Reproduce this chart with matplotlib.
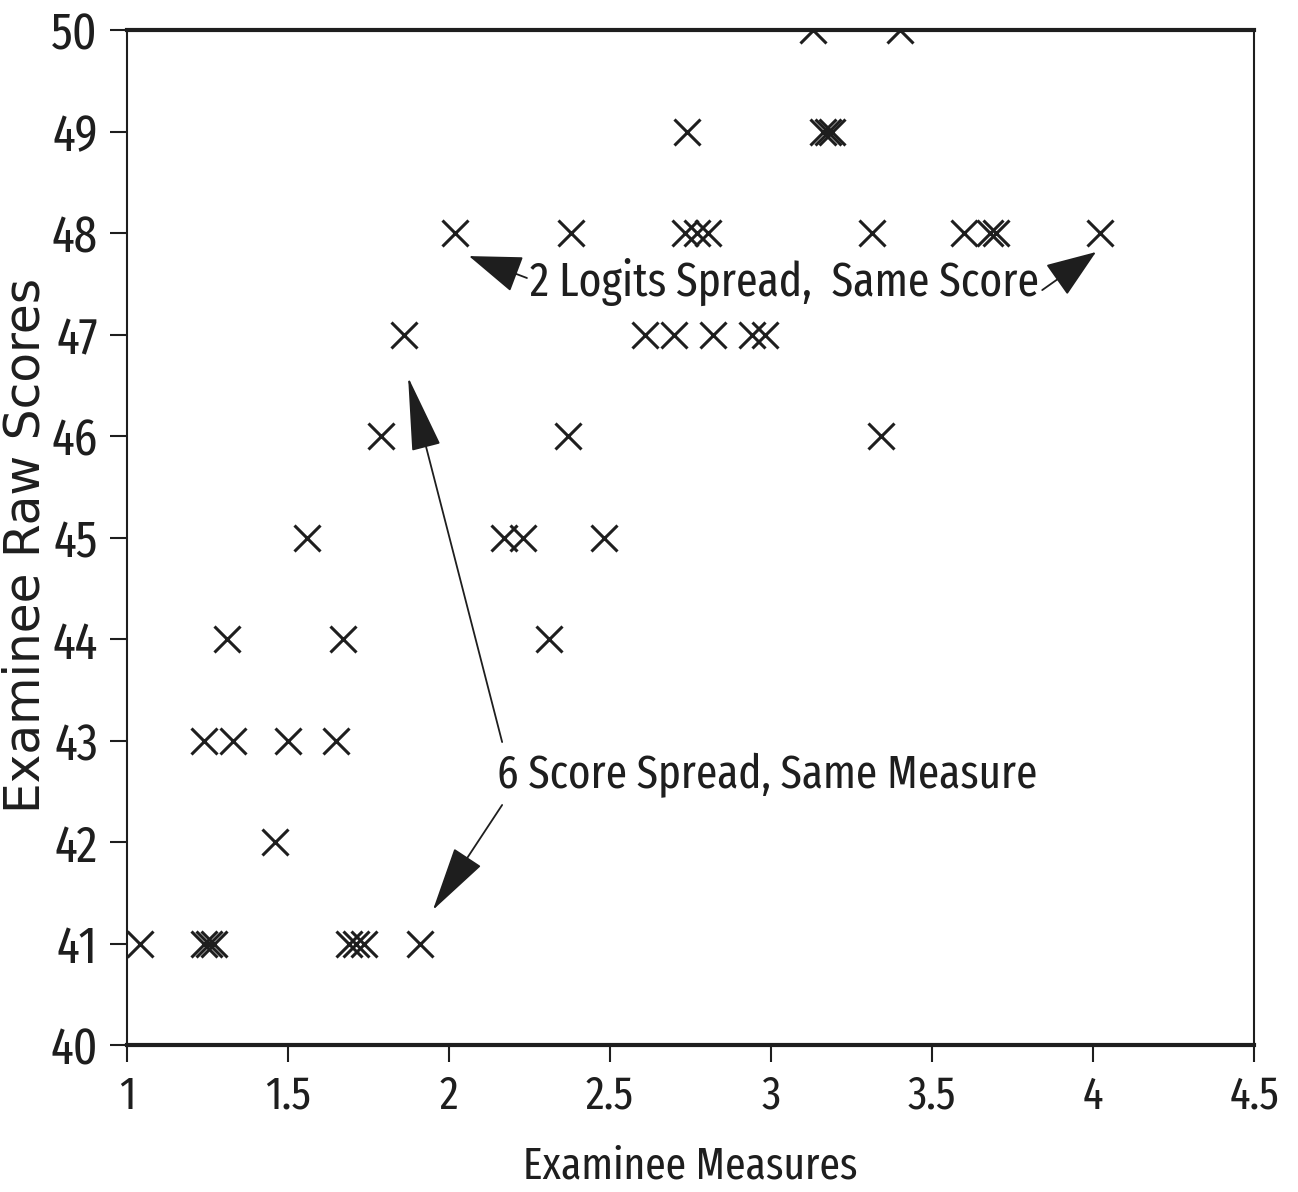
import os
import matplotlib
matplotlib.use("Agg")
import matplotlib.pyplot as plt
from matplotlib import font_manager as fm
from matplotlib.font_manager import FontProperties
from matplotlib.patches import FancyArrowPatch, ArrowStyle

# Examinee measures (logits) and raw scores
measures = [
    3.13, 3.40,
    2.74, 3.16, 3.177, 3.19,
    2.02, 2.38, 2.733, 2.77, 2.804, 3.314, 3.60, 3.68, 3.70, 4.02,
    1.86, 2.61, 2.70, 2.82, 2.94, 2.98,
    1.79, 2.37, 3.34,
    1.56, 2.17, 2.23, 2.48,
    1.31, 1.67, 2.31,
    1.24, 1.33, 1.50, 1.65,
    1.46,
    1.04, 1.24, 1.255, 1.27, 1.69, 1.71, 1.735, 1.91,
]
raw_scores = [
    50, 50,
    49, 49, 49, 49,
    48, 48, 48, 48, 48, 48, 48, 48, 48, 48,
    47, 47, 47, 47, 47, 47,
    46, 46, 46,
    45, 45, 45, 45,
    44, 44, 44,
    43, 43, 43, 43,
    42,
    41, 41, 41, 41, 41, 41, 41, 41,
]

x_ticks = [1, 1.5, 2, 2.5, 3, 3.5, 4, 4.5]
x_tick_labels = ["1", "1.5", "2", "2.5", "3", "3.5", "4", "4.5"]
y_ticks = list(range(40, 51))
y_tick_labels = [str(v) for v in y_ticks]


def pick_narrow_font():
    """Return the path of a regular-weight condensed/narrow face, if any."""
    bad = ("bold", "italic", "light", "thin", "black", "medium",
           "semibold", "oblique", "heavy", "[")
    entries = fm.fontManager.ttflist
    for key in ("extracondensed", "narrow", "condensed"):
        for f in entries:
            base = os.path.basename(f.fname).lower()
            if key in base:
                rest = base.replace(key, "")
                if not any(b in rest for b in bad):
                    return f.fname
    return None


narrow_path = pick_narrow_font()
if narrow_path:
    narrow_fp = FontProperties(fname=narrow_path)
else:
    narrow_fp = FontProperties(family="DejaVu Sans", stretch="condensed")

# Regular-width face for the vertical axis title
regular_path = os.path.join(matplotlib.get_data_path(), "fonts", "ttf",
                            "DejaVuSans.ttf")
if os.path.exists(regular_path):
    label_fp = FontProperties(fname=regular_path, size=35)
else:
    label_fp = FontProperties(family="DejaVu Sans", stretch="normal", size=35)

ink = "#1e1e1e"

fig = plt.figure(figsize=(12.98, 11.92), dpi=100)
ax = fig.add_axes([0.0978, 0.1233, 0.8684, 0.8515])

ax.plot(measures, raw_scores, linestyle="none", marker="x",
        markersize=19, markeredgewidth=2.2, color=ink)

ax.set_xlim(1, 4.5)
ax.set_ylim(40, 50)
ax.set_xticks(x_ticks)
ax.set_xticklabels(x_tick_labels, fontproperties=narrow_fp, color=ink)
ax.set_yticks(y_ticks)
ax.set_yticklabels(y_tick_labels, fontproperties=narrow_fp, color=ink)

ax.tick_params(axis="both", direction="out", length=12, width=1.5,
               color=ink, pad=9)

for side in ("left", "right"):
    ax.spines[side].set_linewidth(1.5)
for side in ("top", "bottom"):
    ax.spines[side].set_linewidth(3.0)
for sp in ax.spines.values():
    sp.set_color(ink)

xlab = ax.set_xlabel("Examinee Measures", fontproperties=narrow_fp,
                     color=ink, labelpad=19)
ylab = ax.set_ylabel("Examinee Raw Scores", fontproperties=label_fp,
                     color=ink)
ylab.set_verticalalignment("center")
ax.yaxis.set_label_coords(-0.0896, 0.4926)

# Callout texts
t1 = ax.text(2.252, 47.52, "2 Logits Spread,  Same Score",
             fontproperties=narrow_fp, color=ink, va="center", ha="left")
t2 = ax.text(2.149, 42.66, "6 Score Spread, Same Measure",
             fontproperties=narrow_fp, color=ink, va="center", ha="left")

# Callout arrows: (tail, tip, head length, head half-width)
arrows = [
    ((2.242, 47.557), (2.062, 47.773), 34, 12),
    ((3.842, 47.438), (4.009, 47.813), 32, 12),
    ((2.165, 42.985), (1.873, 46.581), 48, 9.5),
    ((2.165, 42.365), (1.950, 41.330), 42, 10.5),
]
for tail, tip, hl, hw in arrows:
    style = ArrowStyle("-|>", head_length=hl, head_width=hw)
    ax.add_patch(FancyArrowPatch(tail, tip, arrowstyle=style,
                                 mutation_scale=1, lw=1.3,
                                 color=ink, shrinkA=0, shrinkB=0))

# Size the texts so that their extents fit the intended pixel spans
fig.canvas.draw()
renderer = fig.canvas.get_renderer()


def fit(texts, ref, span, vertical=False):
    ref.set_fontsize(20)
    bb = ref.get_window_extent(renderer)
    cur = bb.height if vertical else bb.width
    size = 20 * span / cur
    for t in texts:
        t.set_fontsize(size)


fit([t1], t1, 510)
fit([t2], t2, 540)
fit([xlab], xlab, 335)
ylabels = ax.get_yticklabels()
xlabels = ax.get_xticklabels()
fit(ylabels, ylabels[-1], 47)
fit(xlabels, xlabels[1], 46)

fig.savefig("out.png", dpi=100)
